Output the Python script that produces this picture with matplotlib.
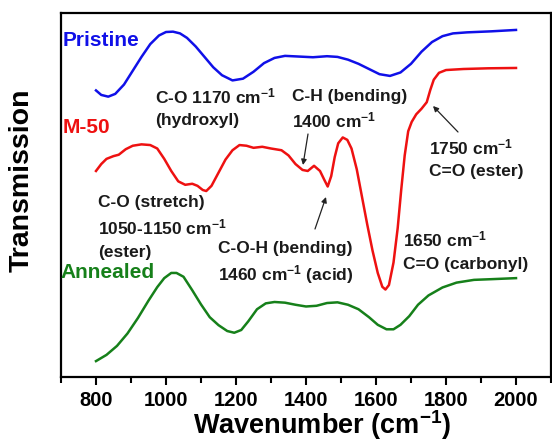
import matplotlib
matplotlib.use("Agg")
import matplotlib.pyplot as plt
from matplotlib.ticker import MultipleLocator

# ---- data (arbitrary transmission units) ----
pristine_wn = [800, 815, 835, 855, 880, 905, 930, 955, 980, 1000, 1020, 1040, 1060,
               1085, 1110, 1135, 1160, 1190, 1220, 1250, 1280, 1310, 1340, 1380,
               1420, 1460, 1490, 1520, 1550, 1580, 1610, 1640, 1670, 1700, 1730,
               1760, 1790, 1820, 1860, 1930, 2000]
pristine_t = [829, 816, 811, 819, 846, 886, 926, 963, 988, 998, 999, 994, 981,
              956, 926, 896, 873, 858, 863, 883, 908, 923, 929, 927,
              925, 928, 926, 918, 906, 891, 876, 871, 881, 906, 941,
              969, 986, 994, 997, 1000, 1004]

m50_wn = [800, 815, 830, 850, 865, 885, 905, 930, 955, 975, 995, 1015, 1035, 1055,
          1075, 1090, 1105, 1115, 1130, 1150, 1170, 1190, 1210, 1230, 1250, 1275,
          1300, 1330, 1350, 1370, 1390, 1405, 1423, 1440, 1452, 1462, 1472, 1482,
          1492, 1505, 1518, 1530, 1545, 1560, 1575, 1590, 1605, 1618, 1627, 1637,
          1650, 1662, 1672, 1682, 1692, 1702, 1715, 1730, 1745, 1755, 1765, 1780,
          1800, 1850, 1920, 2000]
m50_t = [596, 616, 631, 639, 643, 659, 669, 673, 671, 661, 631, 596, 566, 556,
         559, 553, 541, 538, 553, 591, 629, 656, 671, 669, 663, 666,
         661, 656, 641, 616, 599, 596, 611, 596, 571, 551, 581, 636,
         676, 693, 686, 661, 601, 521, 441, 366, 301, 261, 253, 266,
         331, 431, 541, 641, 711, 738, 760, 776, 795, 830, 860, 880,
         888, 891, 893, 894]

annealed_wn = [800, 830, 860, 890, 920, 950, 975, 995, 1015, 1030, 1050, 1075, 1100,
               1125, 1150, 1175, 1195, 1215, 1235, 1260, 1285, 1310, 1340, 1370,
               1400, 1430, 1460, 1490, 1520, 1550, 1580, 1605, 1630, 1650, 1670,
               1695, 1720, 1750, 1790, 1830, 1880, 1930, 2000]
annealed_t = [46, 64, 90, 126, 171, 221, 260, 286, 301, 301, 290, 251, 210,
              173, 150, 133, 128, 136, 161, 196, 213, 217, 215, 209,
              204, 206, 214, 216, 209, 196, 173, 151, 138, 138, 151,
              176, 209, 236, 259, 273, 281, 283, 286]

x_ticks = [800, 1000, 1200, 1400, 1600, 1800, 2000]
series_names = ["Pristine", "M-50", "Annealed"]

C_BLUE = "#1010e8"
C_RED = "#ee1111"
C_GREEN = "#16801a"
C_TXT = "#1a1a1a"

plt.rcParams['font.family'] = ['Liberation Sans', 'DejaVu Sans']
plt.rcParams['mathtext.fontset'] = 'custom'
plt.rcParams['mathtext.rm'] = 'Liberation Sans:bold'
plt.rcParams['mathtext.bf'] = 'Liberation Sans:bold'
plt.rcParams['mathtext.default'] = 'bf'

fig = plt.figure(figsize=(5.52, 4.41), dpi=100)
L, R, T, B = 61, 551, 13, 377
W, H = 552, 441
ax = fig.add_axes([L / W, 1 - B / H, (R - L) / W, (B - T) / H])

ax.plot(pristine_wn, pristine_t, color=C_BLUE, lw=1.8, solid_joinstyle='round')
ax.plot(m50_wn, m50_t, color=C_RED, lw=1.8, solid_joinstyle='round')
ax.plot(annealed_wn, annealed_t, color=C_GREEN, lw=1.8, solid_joinstyle='round')

ax.set_xlim(700, 2100)
ax.set_ylim(0, 1053)
ax.set_xticks(x_ticks)
ax.set_xticklabels([str(v) for v in x_ticks], fontsize=14.5, fontweight='bold')
ax.xaxis.set_minor_locator(MultipleLocator(100))
ax.tick_params(axis='x', which='major', direction='out', length=6, width=1.5, pad=4)
ax.tick_params(axis='x', which='minor', direction='out', length=4, width=1.5)
ax.set_yticks([])
for s in ax.spines.values():
    s.set_linewidth(1.6)

ax.set_xlabel(r"Wavenumber (cm$^{-1}$)", fontsize=19.5, fontweight='bold')
ax.xaxis.set_label_coords((322 - L) / (R - L), -0.087)
ax.set_ylabel("Transmission", fontsize=20.5, fontweight='bold')
ax.yaxis.set_label_coords((35 - L) / (R - L), (B - 180) / (B - T))


def fr(px, py):
    return ((px - L) / (R - L), (B - py) / (B - T))


def txt(px, py, s, color=C_TXT, size=12.5):
    fx, fy = fr(px, py)
    ax.text(fx, fy, s, transform=ax.transAxes, ha='left', va='center',
            fontsize=size, fontweight='bold', color=color)


# series labels
txt(63, 40, series_names[0], C_BLUE, 15)
txt(63, 127, series_names[1], C_RED, 15)
txt(60, 272, series_names[2], C_GREEN, 15)

# annotations
txt(155, 96, r"C-O 1170 cm$^{-1}$")
txt(155, 120, "(hydroxyl)")
txt(292, 96, "C-H (bending)")
txt(292, 120, r"1400 cm$^{-1}$")
txt(98, 202, "C-O (stretch)")
txt(98, 227, r"1050-1150 cm$^{-1}$")
txt(98, 252, "(ester)")
txt(218, 248, "C-O-H (bending)")
txt(218, 275, r"1460 cm$^{-1}$ (acid)")
txt(429, 147, r"1750 cm$^{-1}$")
txt(429, 171, "C=O (ester)")
txt(403, 239, r"1650 cm$^{-1}$")
txt(403, 264, "C=O (carbonyl)")

arrow_kw = dict(arrowstyle='-|>', color='#222222', lw=0.9, mutation_scale=8,
                shrinkA=0, shrinkB=0)


def arrow(tail_px, tip_px):
    ax.annotate("", xy=fr(*tip_px), xycoords='axes fraction',
                xytext=fr(*tail_px), textcoords='axes fraction',
                arrowprops=arrow_kw)


arrow((308, 134), (303, 165))
arrow((315, 229), (326, 197))
arrow((458, 132), (433, 106))

fig.savefig("out.png", dpi=100)
